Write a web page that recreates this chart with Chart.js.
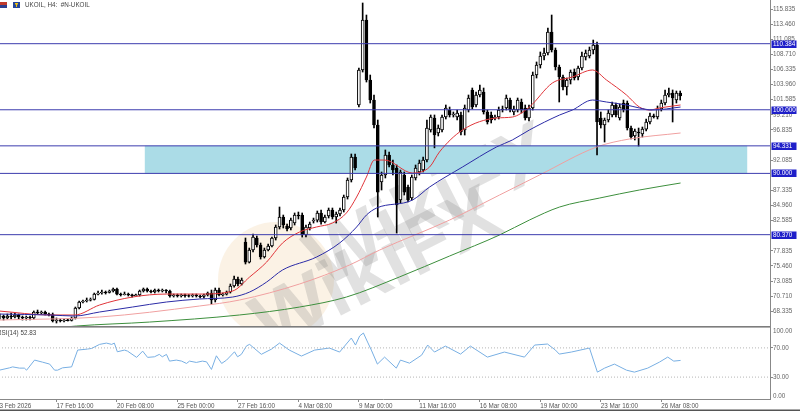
<!DOCTYPE html>
<html><head><meta charset="utf-8">
<script src="https://cdn.jsdelivr.net/npm/chart.js@4.4.1/dist/chart.umd.min.js"></script>
<style>
html,body{margin:0;padding:0;background:#fff;overflow:hidden;width:800px;height:411px;position:relative}
#cp{position:absolute;left:-4px;top:0}
#cr{position:absolute;left:-4px;top:326px}
</style></head><body>
<canvas id="cp" width="804" height="326"></canvas>
<canvas id="cr" width="804" height="85"></canvas>
<script>
// ---- data (H4 candles, bar index starts at 1; bar 0 = 13 Feb 00:00) ----
const open = [
67.43,67.59,67.28,67.59,67.43,67.75,67.43,67.28,67.43,67.28,
68.22,68.06,68.22,67.90,67.82,66.80,66.96,66.80,66.96,66.88,
67.28,68.85,69.79,69.95,70.10,70.18,71.04,71.20,71.36,71.28,
71.52,71.83,71.04,70.97,71.04,70.89,70.81,70.89,71.52,71.83,
71.52,71.36,71.67,71.52,71.67,71.52,70.73,70.89,70.73,70.89,
70.81,70.73,70.89,70.73,70.65,70.89,71.20,70.10,71.67,70.89,
71.04,71.36,72.30,73.40,72.62,79.22,76.07,77.96,79.85,78.75,
76.86,77.96,78.59,79.85,81.58,83.15,81.73,81.42,82.20,83.46,
83.46,80.32,81.42,82.52,82.67,83.78,82.36,83.31,84.25,83.15,
83.62,84.25,86.29,88.96,92.57,100.75,106.25,114.11,104.68,101.53,
97.61,88.65,89.75,92.89,91.32,90.85,85.82,89.75,87.86,86.13,
89.28,90.22,90.53,92.10,96.82,98.70,96.35,96.82,98.86,99.96,
99.18,98.86,99.18,96.82,99.96,103.11,100.75,102.32,102.79,99.65,
99.18,98.70,98.86,100.12,100.28,101.53,99.65,99.96,101.22,100.28,
98.70,100.28,105.46,107.03,108.45,108.92,112.22,109.39,106.72,105.15,
103.58,104.68,105.93,105.15,106.56,108.29,108.45,109.39,110.18,98.70,
97.61,98.39,99.18,100.75,98.70,101.06,101.06,97.13,95.88,96.50,
96.19,96.97,98.08,99.02,98.86,100.12,101.06,102.32,102.64,101.53,102.64];
const high = [
67.90,67.75,67.90,68.06,68.06,67.90,67.59,67.59,67.59,68.38,
68.53,68.38,68.38,68.06,68.06,67.28,67.12,67.12,67.12,67.43,
69.00,69.95,70.10,70.42,70.42,71.20,71.52,71.67,71.52,71.67,
71.99,71.99,71.20,71.36,71.20,71.04,71.04,71.67,71.99,71.99,
71.67,71.83,71.83,71.83,71.75,71.67,71.04,71.04,71.04,71.04,
70.97,71.04,71.04,70.89,71.04,71.36,71.67,71.99,71.99,71.20,
71.52,72.62,73.87,73.72,73.56,79.85,78.27,80.47,80.16,79.06,
78.27,78.90,80.00,81.89,84.72,83.46,82.04,82.98,83.78,83.93,
83.78,81.89,82.36,82.98,84.09,84.25,83.46,84.56,84.56,83.93,
84.56,86.60,89.28,93.05,93.05,106.56,116.78,114.89,105.46,102.32,
98.39,90.22,93.68,93.36,92.10,91.32,90.53,90.22,88.17,89.75,
91.32,92.10,92.57,98.39,99.18,99.18,97.61,99.18,100.75,100.43,
99.65,99.96,99.65,100.75,102.32,103.42,102.79,103.89,103.42,99.96,
99.65,99.18,100.43,100.59,102.32,101.85,100.59,101.85,101.69,100.75,
100.75,105.93,107.51,109.08,109.71,112.85,114.89,109.71,107.03,105.46,
104.99,106.25,106.41,106.88,109.08,109.39,109.86,110.96,110.65,99.65,
98.70,99.96,101.22,101.06,100.90,101.53,101.38,97.45,96.97,97.13,
97.29,98.55,99.49,99.33,100.59,101.53,103.11,103.42,103.11,102.95,102.95];
const low = [
67.12,66.96,67.12,67.12,67.28,67.12,66.96,66.96,66.96,67.12,
67.90,67.90,67.75,67.59,66.65,66.49,66.65,66.65,66.80,66.80,
67.12,68.69,69.63,69.79,69.95,70.10,70.89,71.04,71.04,71.20,
71.36,70.89,70.73,70.89,70.73,70.57,70.73,70.73,71.36,71.36,
71.20,71.20,71.36,71.36,71.20,70.57,70.57,70.57,70.57,70.57,
70.57,70.57,70.57,70.42,70.42,70.73,69.48,69.79,70.73,70.73,
70.89,71.20,72.14,72.30,72.46,75.76,75.92,77.65,78.43,76.54,
76.70,77.80,78.43,79.53,81.26,81.42,80.95,81.10,81.89,82.83,
80.00,80.00,81.10,82.20,82.36,82.04,82.20,82.99,82.83,82.20,
83.31,83.93,85.97,88.65,90.53,100.43,105.93,104.36,101.06,97.13,
83.15,87.39,89.28,91.00,89.75,80.63,85.35,86.60,85.50,85.82,
88.96,89.75,90.22,91.79,96.50,94.01,95.88,96.50,98.55,98.86,
98.86,98.39,96.03,96.03,99.65,100.12,100.43,102.01,99.33,97.76,
97.92,98.39,98.55,99.65,99.96,99.65,99.18,99.65,99.49,98.39,
98.23,99.96,104.99,106.56,107.82,108.61,109.08,106.25,101.22,103.11,
102.32,104.05,104.68,104.68,106.25,107.82,108.14,108.77,92.89,97.13,
94.93,98.08,98.86,98.86,98.39,99.65,96.82,95.41,95.25,94.30,
95.72,96.66,97.76,98.70,98.55,99.80,100.75,102.01,98.08,101.06,101.53];
const close = [
67.59,67.28,67.59,67.43,67.75,67.43,67.28,67.43,67.28,68.22,
68.06,68.22,67.90,67.82,66.80,66.96,66.80,66.96,66.88,67.28,
68.85,69.79,69.95,70.10,70.18,71.04,71.20,71.36,71.28,71.52,
71.83,71.04,70.97,71.04,70.89,70.81,70.89,71.52,71.83,71.52,
71.36,71.67,71.52,71.67,71.52,70.73,70.89,70.73,70.89,70.81,
70.73,70.89,70.73,70.65,70.89,71.20,70.10,71.67,70.89,71.04,
71.36,72.30,73.40,72.62,73.25,76.07,77.96,80.00,78.75,76.86,
77.96,78.59,79.85,81.58,83.15,81.89,81.26,82.67,83.46,83.31,
80.32,81.58,82.04,82.67,83.78,82.36,83.15,84.25,83.15,83.62,
84.25,86.29,88.96,92.57,90.85,106.25,114.11,104.68,101.53,97.61,
87.07,89.75,92.89,91.32,90.53,85.03,90.22,87.07,85.82,89.43,
90.85,91.63,92.10,97.13,98.86,96.03,97.13,98.86,100.28,99.18,
99.33,99.49,96.50,100.28,101.85,100.43,102.32,103.11,99.65,98.08,
98.39,98.86,99.96,99.96,101.85,99.96,100.12,101.53,99.96,98.70,
100.28,105.46,107.03,108.45,108.92,112.22,109.39,106.72,105.15,103.58,
104.68,105.93,104.99,106.56,108.45,108.92,109.39,110.18,98.08,97.61,
98.39,99.49,100.75,99.18,100.43,99.96,97.13,95.72,96.66,96.35,
96.97,98.08,99.02,98.94,100.12,101.06,102.32,102.64,101.85,102.64,102.17];
const firstBar = 1;

// moving averages (bar index, price)
const maRedX  = [0.9,14.2,20.8,27.4,36.1,45.1,53.8,62.6,67.1,71.6,75.8,80.3,84.8,89,92.7,95.4,98,100.1,102.8,110.2,114.7,117.3,123.4,132.4,136.6,141.1,147.2,152.5,157.8,161.5,166.8,170.2,172.9,175.5,181.1];
const maRedY  = [68.37,67.75,67.75,69.32,70.57,71.04,71.04,71.52,73.72,76.07,79.06,80.79,81.58,82.20,83.78,86.29,89.43,92.10,92.10,90.06,91.00,93.36,96.82,98.70,98.86,100.43,104.21,105.15,106.25,104.68,102.32,100.43,99.96,100.28,100.75];
const maBlueX = [0.9,14.2,20.8,27.4,36.1,45.1,53.8,62.6,67.1,71.6,75.8,84.8,90.9,95.4,98,100.7,110.2,114.7,123.4,132.4,136.6,141.1,149.1,152.5,157.8,161.5,166.8,170.2,173.7,181.1];
const maBlueY = [67.90,67.75,67.59,68.22,69.00,69.79,70.26,70.57,71.36,72.93,74.82,76.86,79.06,81.58,83.46,84.56,85.82,87.86,91.00,94.15,95.25,96.82,99.18,99.96,101.53,101.22,100.75,100.28,99.96,100.43];
const maPinkX = [0.9,27.4,53.8,64.4,80.3,93.5,101.5,120,133.2,143.8,158.9,167.6,181.1];
const maPinkY = [66.96,67.43,69.16,70.10,72.62,75.60,77.96,82.67,86.60,89.75,94.15,95.41,96.35];
const maGreenX = [0.9,21.3,40.6,64.4,80.3,92.7,106.7,120,133.2,141.1,149.1,159.7,170.2,181.1];
const maGreenY = [64.76,66.02,66.64,67.75,69.00,70.57,73.72,77.02,80.32,82.67,84.72,86.13,87.39,88.49];

// RSI(14)
const rsiX = [0.9,3.6,4.4,6.2,7.5,8.1,10.2,12.3,14.2,15.5,16.3,17.6,20,21.6,24.2,25.3,27.4,29.2,30.6,31.3,32.1,34,34.8,37.2,38.8,40.1,41.9,43.2,44,45.1,45.9,47.7,49.1,50.4,51.2,53,54.6,55.7,57,58.3,59.7,61,63.1,63.9,64.9,66.3,67.1,70.2,72.9,75,77.6,80.8,84.3,88.2,90.9,94,95.1,96.2,97.2,98.3,99.3,100.9,102.8,105.9,107,109.4,112.6,114.2,116,118.9,122.9,125.5,130,134.5,139.8,142.5,145.9,148,149,152.2,157,159.1,161,163.6,166.8,168.9,172.4,175.5,177.7,179.3,181.1];
const rsiY = [39.5,42.7,44,42.3,42.3,39.5,53.3,50.5,47.8,39.5,39.5,42.7,44,67,68.4,69.3,74.8,76.6,74.8,76.6,64.7,67,65.6,57,65.6,57,57.8,61.1,57.8,61.1,51.9,53.3,51.9,48.7,51.9,50.1,51.9,50.9,40.5,59.2,48.7,53.3,64.7,57.8,61.1,72.9,74.8,61.2,68.4,76.6,67,58.8,67,69.8,64.3,83.5,73.9,86.3,90.4,78,67,47.8,57.4,42.3,53.3,49.1,60.1,73.9,64.3,72.5,61.5,72.5,57.4,64.3,57.4,73.9,75.3,67,61.5,64.3,69.8,36.8,42.3,47.8,39.5,36.8,42.3,50.5,57.4,51.9,52.83];
const rsiLevels = [30, 70];

// axes
const tickPos = [0,16,32,48,64,80,96,112,128,144,160,176];
const tickLabels = ["13 Feb 2026","17 Feb 16:00","20 Feb 08:00","25 Feb 00:00","27 Feb 16:00","4 Mar 08:00","9 Mar 00:00","11 Mar 16:00","16 Mar 08:00","19 Mar 00:00","23 Mar 16:00","26 Mar 08:00"];
const priceTicks = [68.335,70.710,73.085,75.460,77.835,82.585,84.960,87.335,92.085,96.835,99.210,101.585,103.960,106.335,108.710,111.085,113.460,115.835];
const levels = [110.384, 100.000, 94.331, 90.000, 80.370];
const zone = {top: 94.331, bottom: 90.000, from: 39.3, to: 198.8};
const XMAX = 204.76, PMIN = 66.02, PMAX = 117.25;

// ---- build ----
const FONT = '"Liberation Sans", Arial, sans-serif';
const idx = open.map((_, k) => k + firstBar);
const wickData = idx.map((x, k) => ({x, y: [low[k], high[k]]}));
const bodyData = idx.map((x, k) => {
  let a = Math.min(open[k], close[k]), b = Math.max(open[k], close[k]);
  if (b - a < 0.1) { const m = (a + b) / 2; a = m - 0.05; b = m + 0.05; }
  return {x, y: [a, b]};
});
const bodyFill = idx.map((_, k) => close[k] >= open[k] ? '#ffffff' : '#000000');
const pts = (X, Y) => X.map((x, k) => ({x, y: Y[k]}));
const maLine = (X, Y, c) => ({type: 'line', data: pts(X, Y), borderColor: c, borderWidth: 1, pointRadius: 0, cubicInterpolationMode: 'monotone', fill: false, order: 0});

const priceDatasets = [
  {type: 'line', data: [{x: zone.from, y: zone.top}, {x: zone.to, y: zone.top}], borderWidth: 0, pointRadius: 0, fill: '+1', backgroundColor: '#abdce7', order: 9},
  {type: 'line', data: [{x: zone.from, y: zone.bottom}, {x: zone.to, y: zone.bottom}], borderWidth: 0, pointRadius: 0, fill: false, order: 9},
  ...levels.map(v => ({type: 'line', data: [{x: 0, y: v}, {x: XMAX, y: v}], borderColor: '#3c3cae', borderWidth: 1, pointRadius: 0, fill: false, order: 0})),
  {type: 'bar', data: wickData, backgroundColor: '#000', borderWidth: 0, barThickness: 1, grouped: false, order: 2},
  {type: 'bar', data: bodyData, backgroundColor: bodyFill, borderColor: '#000', borderWidth: 1, borderSkipped: false, barThickness: 3, grouped: false, order: 1},
  maLine(maGreenX, maGreenY, '#3d8f3d'),
  maLine(maPinkX, maPinkY, '#f0a0a0'),
  maLine(maBlueX, maBlueY, '#2b2ba6'),
  maLine(maRedX, maRedY, '#e0353a')
];

const decor = {
  id: 'decor',
  beforeDatasetsDraw(chart) {
    const {ctx, chartArea: a} = chart;
    ctx.save();
    ctx.beginPath(); ctx.rect(a.left, a.top, a.right - a.left, a.bottom - a.top); ctx.clip();
    ctx.fillStyle = 'rgba(240,205,150,0.25)';
    ctx.beginPath(); ctx.arc(280, 280, 58, 0, Math.PI * 2); ctx.fill();
    ctx.font = 'bold 80px ' + FONT;
    ctx.fillStyle = 'rgba(128,128,128,0.24)';
    ctx.textAlign = 'center'; ctx.textBaseline = 'middle';
    ctx.translate(436, 208); ctx.rotate(-0.47);
    ctx.fillText('WikiFX', 0, 0);
    ctx.setTransform(1, 0, 0, 1, 0, 0);
    ctx.translate(382, 272); ctx.rotate(-0.47);
    ctx.fillText('WikiFX', 0, 0);
    ctx.restore();
  },
  afterDraw(chart) {
    const {ctx, chartArea: a, scales: {y}} = chart;
    ctx.save();
    ctx.font = '6.3px ' + FONT;
    ctx.textBaseline = 'middle';
    levels.forEach(v => {
      const py = Math.round(y.getPixelForValue(v));
      ctx.fillStyle = '#1f1fc9';
      ctx.fillRect(a.right + 1.5, py - 3.5, 25, 7.5);
      ctx.fillStyle = '#ffffff';
      ctx.textAlign = 'left';
      ctx.fillText(v.toFixed(3), a.right + 3, py + 0.3);
    });
    // header
    ctx.fillStyle = '#c0392b'; ctx.fillRect(4, 2, 7, 3);
    ctx.fillStyle = '#2c3e8f'; ctx.fillRect(4, 5, 7, 3);
    ctx.fillStyle = '#24469a'; ctx.fillRect(17, 2, 7, 6);
    ctx.fillStyle = '#f1c40f'; ctx.fillRect(19, 3, 3, 1.5); ctx.fillRect(20, 3, 1, 4);
    ctx.fillStyle = '#444';
    ctx.textAlign = 'left';
    ctx.fillText('UKOIL, H4:  #N-UKOIL', 29, 5.5);
    ctx.restore();
  }
};

new Chart(document.getElementById('cp'), {
  type: 'bar',
  data: {datasets: priceDatasets},
  options: {
    responsive: false, animation: false, devicePixelRatio: 1,
    layout: {padding: 0},
    plugins: {legend: {display: false}, tooltip: {enabled: false}},
    scales: {
      x: {type: 'linear', min: 0, max: XMAX, offset: false, display: false},
      y: {
        position: 'right', min: PMIN, max: PMAX,
        afterFit(s) { s.width = 30; s.paddingTop = 0; s.paddingBottom = 0; },
        afterBuildTicks(s) { s.ticks = priceTicks.map(v => ({value: v})); },
        ticks: {callback: v => v.toFixed(3), font: {size: 6.3, family: FONT}, color: '#666', padding: 0, autoSkip: false},
        grid: {drawOnChartArea: false, drawTicks: true, tickLength: 3, color: '#888'},
        border: {display: true, color: '#888'}
      }
    }
  },
  plugins: [decor]
});

const rsiDecor = {
  id: 'rsiDecor',
  afterDraw(chart) {
    const {ctx, chartArea: a} = chart;
    ctx.save();
    ctx.fillStyle = '#7d7d7d';
    ctx.fillRect(0, 0, a.right, 1.6);
    ctx.fillStyle = '#555';
    ctx.fillRect(0, 83.5, 804, 1.5);
    ctx.font = '6.3px ' + FONT;
    ctx.textBaseline = 'middle'; ctx.textAlign = 'left';
    ctx.fillStyle = '#444';
    ctx.fillText('RSI(14) 52.83', 1, 7);
    ctx.fillStyle = '#666';
    ctx.fillText('100.00', a.right + 3, 5);
    ctx.fillText('0.00', a.right + 3, 70);
    ctx.restore();
  }
};

new Chart(document.getElementById('cr'), {
  type: 'line',
  data: {datasets: [
    ...rsiLevels.map(v => ({data: [{x: 0, y: v}, {x: XMAX, y: v}], borderColor: '#b5b5b5', borderWidth: 1, borderDash: [1, 2], pointRadius: 0, fill: false})),
    {data: pts(rsiX, rsiY), borderColor: '#78afe3', borderWidth: 1, pointRadius: 0, fill: false, tension: 0}
  ]},
  options: {
    responsive: false, animation: false, devicePixelRatio: 1,
    layout: {padding: 0},
    plugins: {legend: {display: false}, tooltip: {enabled: false}},
    scales: {
      x: {
        type: 'linear', min: 0, max: XMAX, offset: false,
        afterFit(s) { s.height = 12; s.paddingLeft = 0; s.paddingRight = 0; },
        afterBuildTicks(s) { s.ticks = tickPos.map(v => ({value: v})); },
        ticks: {autoSkip: false, maxRotation: 0, align: 'start', padding: 0,
          callback: v => tickLabels[tickPos.indexOf(v)] || '',
          font: {size: 6.3, family: FONT}, color: '#555'},
        grid: {drawOnChartArea: false, drawTicks: true, tickLength: 3, color: '#888'},
        border: {display: true, color: '#888'}
      },
      y: {
        position: 'right', min: 0, max: 100,
        afterFit(s) { s.width = 30; s.paddingTop = 0; s.paddingBottom = 0; },
        afterBuildTicks(s) { s.ticks = rsiLevels.map(v => ({value: v})); },
        ticks: {callback: v => v.toFixed(2), font: {size: 6.3, family: FONT}, color: '#666', padding: 0},
        grid: {drawOnChartArea: false, drawTicks: true, tickLength: 3, color: '#888'},
        border: {display: true, color: '#888'}
      }
    }
  },
  plugins: [rsiDecor]
});
</script></body></html>
